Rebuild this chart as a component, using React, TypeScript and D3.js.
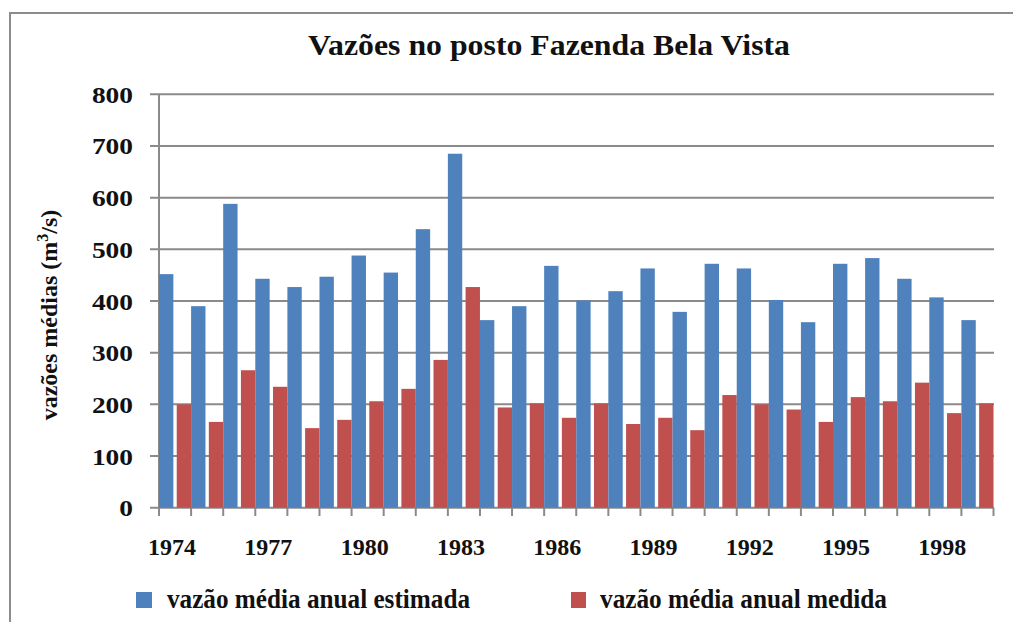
import React from "react";
import * as d3 from "d3";

const years = ["1974","1975","1976","1977","1978","1979","1980","1981","1982","1983","1984","1985","1986","1987","1988","1989","1990","1991","1992","1993","1994","1995","1996","1997","1998","1999"];
const estimada = [452,390,588,443,427,447,488,455,539,685,363,390,468,401,419,463,379,472,463,402,359,472,483,443,407,363];
const medida = [200,166,266,234,154,170,206,230,286,427,194,202,174,202,162,174,150,218,200,190,166,214,206,242,183,202];
const xTickLabels = ["1974","1977","1980","1983","1986","1989","1992","1995","1998"];
const yTicks = [0,100,200,300,400,500,600,700,800];
const seriesNames = ["vazão média anual estimada","vazão média anual medida"];
const colors = ["#4F81BD","#C0504D"];

const W = 1013, H = 622;
const FONT = "Liberation Serif, Times New Roman, Times, serif";
const ts: React.CSSProperties = { fontFamily: FONT, fontWeight: 700 };

export default function App() {
  const x = d3.scaleBand<string>().domain(years).range([159, 993.5]).padding(0);
  const inner = d3.scaleBand<string>().domain(["e","m"]).range([0, x.bandwidth()]).paddingInner(0.19).paddingOuter(0);
  const y = d3.scaleLinear().domain([0, 800]).range([507.7, 94.3]);
  const grid = "#8a8a8a";
  const boundaries = years.map((yr) => x(yr)!).concat([x.range()[1]]);

  return (
    <svg width={W} height={H} style={{ position: "absolute", left: 0, top: 0, background: "#fff" }}>
      <rect x={10} y={13} width={1020} height={640} fill="#fff" stroke="#8c8c8c" strokeWidth={2} />
      <text x={549} y={55} textAnchor="middle" fontSize={30} style={ts} textLength={482} lengthAdjust="spacingAndGlyphs" fill="#111">Vazões no posto Fazenda Bela Vista</text>

      {yTicks.map((t) => (
        <g key={t}>
          <line x1={150} x2={994} y1={y(t)} y2={y(t)} stroke={grid} strokeWidth={2} />
          <text x={133} y={y(t) + 8.5} textAnchor="end" fontSize={23} style={ts} fill="#111"
            textLength={String(t).length * 13.7} lengthAdjust="spacingAndGlyphs">{t}</text>
        </g>
      ))}
      <line x1={159} x2={159} y1={94.3} y2={516} stroke={grid} strokeWidth={2} />
      {boundaries.map((bx, i) => (
        <line key={i} x1={bx} x2={bx} y1={507.7} y2={516} stroke={grid} strokeWidth={2} />
      ))}

      {years.map((yr, i) => (
        <g key={yr}>
          <rect x={x(yr)! + inner("e")!} y={y(estimada[i])} width={inner.bandwidth()} height={y(0) - y(estimada[i])} fill={colors[0]} />
          <rect x={x(yr)! + inner("m")!} y={y(medida[i])} width={inner.bandwidth()} height={y(0) - y(medida[i])} fill={colors[1]} />
        </g>
      ))}

      {xTickLabels.map((lab) => (
        <text key={lab} x={x(lab)! + x.bandwidth() / 2 - 3} y={555} textAnchor="middle" fontSize={23} style={ts} fill="#111"
          textLength={48} lengthAdjust="spacingAndGlyphs">{lab}</text>
      ))}

      <text transform="translate(57,315) rotate(-90)" textAnchor="middle" fontSize={24} style={ts} fill="#111">
        vazões médias (m<tspan fontSize={16} dy={-9}>3</tspan><tspan dy={9}>/s)</tspan>
      </text>

      <rect x={136} y={592} width={16} height={16} fill={colors[0]} />
      <text x={167} y={608} fontSize={27} style={ts} fill="#111" textLength={303} lengthAdjust="spacingAndGlyphs">{seriesNames[0]}</text>
      <rect x={571} y={592} width={15} height={16} fill={colors[1]} />
      <text x={600} y={608} fontSize={27} style={ts} fill="#111" textLength={287} lengthAdjust="spacingAndGlyphs">{seriesNames[1]}</text>
    </svg>
  );
}
